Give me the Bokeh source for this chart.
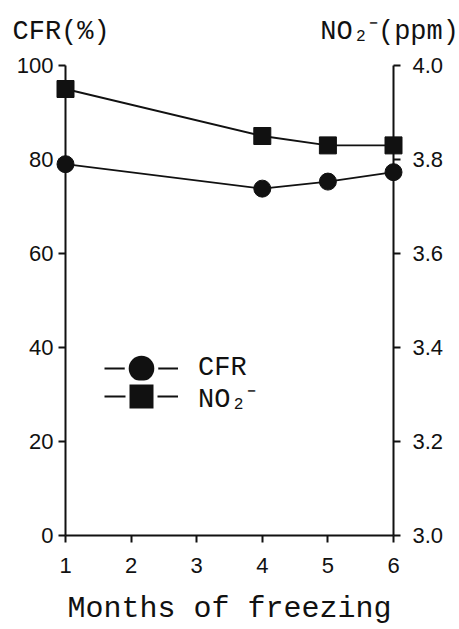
from bokeh.plotting import figure
from bokeh.models import (Range1d, LinearAxis, FixedTicker, ColumnDataSource,
                          Legend, LegendItem, Title, NumeralTickFormatter)
from bokeh.embed import file_html
from bokeh.resources import INLINE

# ---- data ----
months = [1, 4, 5, 6]
cfr = [79.0, 73.8, 75.3, 77.3]          # CFR (%)
no2 = [3.95, 3.85, 3.83, 3.83]          # NO2- (ppm)
x_ticks = [1, 2, 3, 4, 5, 6]
left_ticks = [0, 20, 40, 60, 80, 100]
right_ticks = [3.0, 3.2, 3.4, 3.6, 3.8, 4.0]

INK = "#111111"
MONO = "Liberation Mono"
SANS = "Liberation Sans"
NB = "\u00a0"

p = figure(width=459, height=629, output_backend="svg", toolbar_location=None,
           x_range=Range1d(1, 6), y_range=Range1d(0, 100),
           x_axis_type=None, y_axis_type=None,
           min_border_left=65, min_border_right=66,
           min_border_top=65, min_border_bottom=94)
p.extra_y_ranges = {"no2": Range1d(3.0, 4.0)}
p.outline_line_color = None
p.xgrid.visible = False
p.ygrid.visible = False


def style_axis(ax, standoff):
    ax.axis_line_color = INK
    ax.axis_line_width = 2
    ax.major_tick_line_color = INK
    ax.major_tick_line_width = 2
    ax.major_tick_out = 7
    ax.major_tick_in = 0
    ax.minor_tick_line_color = None
    ax.major_label_text_font = SANS
    ax.major_label_text_font_size = "22px"
    ax.major_label_text_color = INK
    ax.major_label_standoff = standoff


xaxis = LinearAxis(ticker=FixedTicker(ticks=x_ticks),
                   axis_label="Months of freezing")
style_axis(xaxis, 15)
xaxis.axis_label_text_font = MONO
xaxis.axis_label_text_font_size = "30px"
xaxis.axis_label_text_font_style = "normal"
xaxis.axis_label_text_color = INK
xaxis.axis_label_standoff = 16
p.add_layout(xaxis, "below")

laxis = LinearAxis(ticker=FixedTicker(ticks=left_ticks))
style_axis(laxis, 5)
p.add_layout(laxis, "left")

raxis = LinearAxis(ticker=FixedTicker(ticks=right_ticks), y_range_name="no2",
                   formatter=NumeralTickFormatter(format="0.0"))
style_axis(raxis, 12)
p.add_layout(raxis, "right")

src_cfr = ColumnDataSource(dict(x=months, y=cfr))
src_no2 = ColumnDataSource(dict(x=months, y=no2))

p.line("x", "y", source=src_cfr, line_color=INK, line_width=1.8, level="overlay")
p.scatter("x", "y", source=src_cfr, marker="circle", size=17,
          fill_color=INK, line_color=INK, level="overlay")
p.line("x", "y", source=src_no2, line_color=INK, line_width=1.8,
       y_range_name="no2", level="overlay")
p.scatter("x", "y", source=src_no2, marker="square", size=17,
          fill_color=INK, line_color=INK, y_range_name="no2", level="overlay")

# legend-only renderers (data far outside the visible ranges)
off = ColumnDataSource(dict(x=[-1000], y=[-1000]))
lg_l1 = p.line("x", "y", source=off, line_color=INK, line_width=2)
lg_m1 = p.scatter("x", "y", source=off, marker="circle",
                  fill_color=INK, line_color="white", line_width=4)
lg_l2 = p.line("x", "y", source=off, line_color=INK, line_width=2)
lg_m2 = p.scatter("x", "y", source=off, marker="square",
                  fill_color=INK, line_color="white", line_width=4)

common = dict(orientation="vertical", glyph_width=74, label_standoff=20,
              spacing=0, padding=0, margin=0, border_line_color=None,
              background_fill_alpha=0, label_text_font=MONO,
              label_text_font_size="27px", label_text_color=INK)

# marker size in a legend is 0.4 * min(glyph_width, glyph_height)
leg1 = Legend(items=[LegendItem(label="CFR", renderers=[lg_l1, lg_m1])],
              location=(39, 126), glyph_height=82, label_height=82, **common)
leg2 = Legend(items=[LegendItem(label="NO₂⁻", renderers=[lg_l2, lg_m2])],
              location=(39, 104), glyph_height=70, label_height=70, **common)
p.add_layout(leg1)
p.add_layout(leg2)

top_text = "CFR(%)" + NB * 13 + "NO₂⁻(ppm)"
p.add_layout(Title(text=top_text, align="left", offset=-53, standoff=33,
                   vertical_align="top",
                   text_font=MONO, text_font_size="27px",
                   text_font_style="normal", text_color=INK), "above")

open("out.html", "w").write(file_html(p, INLINE))
